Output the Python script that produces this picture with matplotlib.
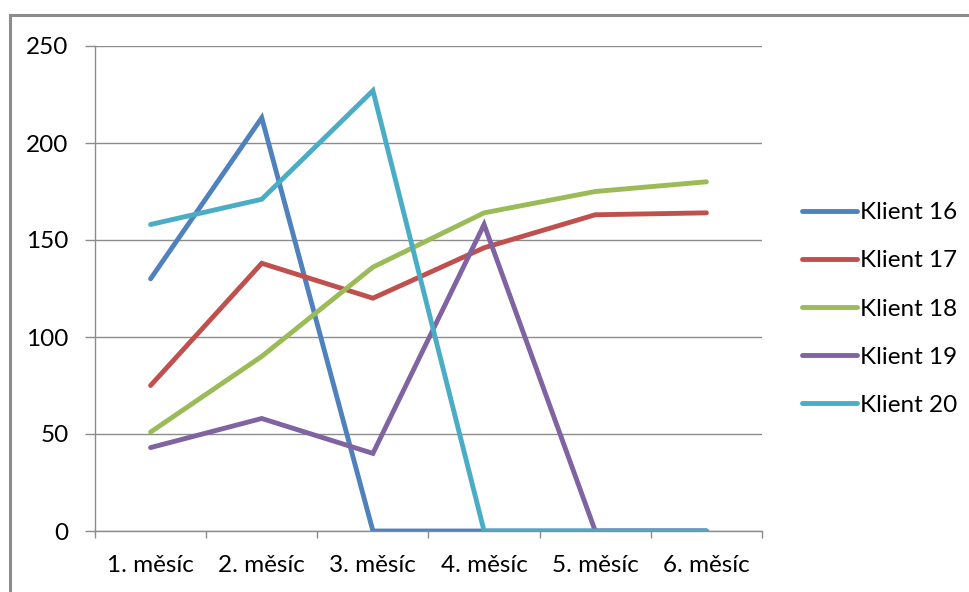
import matplotlib.pyplot as plt
import numpy as np
from matplotlib.patches import Rectangle

plt.rcParams['font.family'] = ['Lato', 'DejaVu Sans']

months = ["1. měsíc", "2. měsíc", "3. měsíc", "4. měsíc", "5. měsíc", "6. měsíc"]
klient_16 = [130, 213, 0, 0, 0, 0]
klient_17 = [75, 138, 120, 146, 163, 164]
klient_18 = [51, 90, 136, 164, 175, 180]
klient_19 = [43, 58, 40, 158, 0, 0]
klient_20 = [158, 171, 227, 0, 0, 0]

series = [
    ("Klient 16", klient_16, "#4F81BD"),
    ("Klient 17", klient_17, "#C0504D"),
    ("Klient 18", klient_18, "#9BBB59"),
    ("Klient 19", klient_19, "#8064A2"),
    ("Klient 20", klient_20, "#4BACC6"),
]

fig = plt.figure(figsize=(9.7, 5.92), dpi=100)
ax = fig.add_axes([95/970, 61/592, 667/970, 485/592])

# outer chart frame (right and bottom edges fall outside the image)
fig.patches.append(Rectangle((10/970, -0.1), 1.1, 0.1 + 577/592, transform=fig.transFigure,
                             fill=False, edgecolor="#8c8c8c", linewidth=2.2))

x = np.arange(len(months))
for name, vals, col in series:
    ax.plot(x, vals, color=col, linewidth=3.5, label=name, solid_capstyle="round",
            solid_joinstyle="miter")

ax.set_xlim(-0.5, 5.5)
ax.set_ylim(0, 250)
ax.set_yticks(np.arange(0, 251, 50))
ax.yaxis.grid(True, color="#8c8c8c", linewidth=1)
ax.set_axisbelow(True)

ax.set_xticks(x)
ax.set_xticklabels(months)
ax.set_xticks(np.arange(-0.5, 6, 1), minor=True)
ax.tick_params(axis="x", which="major", length=0, pad=17, labelsize=17.5)
ax.tick_params(axis="x", which="minor", length=5, width=1, color="#8c8c8c", direction="out")
ax.tick_params(axis="y", length=7, width=1, color="#8c8c8c", pad=12, labelsize=17.5)

for side in ["top", "right"]:
    ax.spines[side].set_visible(False)
for side in ["left", "bottom"]:
    ax.spines[side].set_color("#8c8c8c")
    ax.spines[side].set_linewidth(1)

fig.legend(loc="center left", bbox_to_anchor=(802/970, 1 - 309/592), frameon=False,
           fontsize=17.5, handlelength=2.25, handletextpad=0.12, labelspacing=1.12,
           borderpad=0, borderaxespad=0)

fig.savefig("out.png", dpi=100)
